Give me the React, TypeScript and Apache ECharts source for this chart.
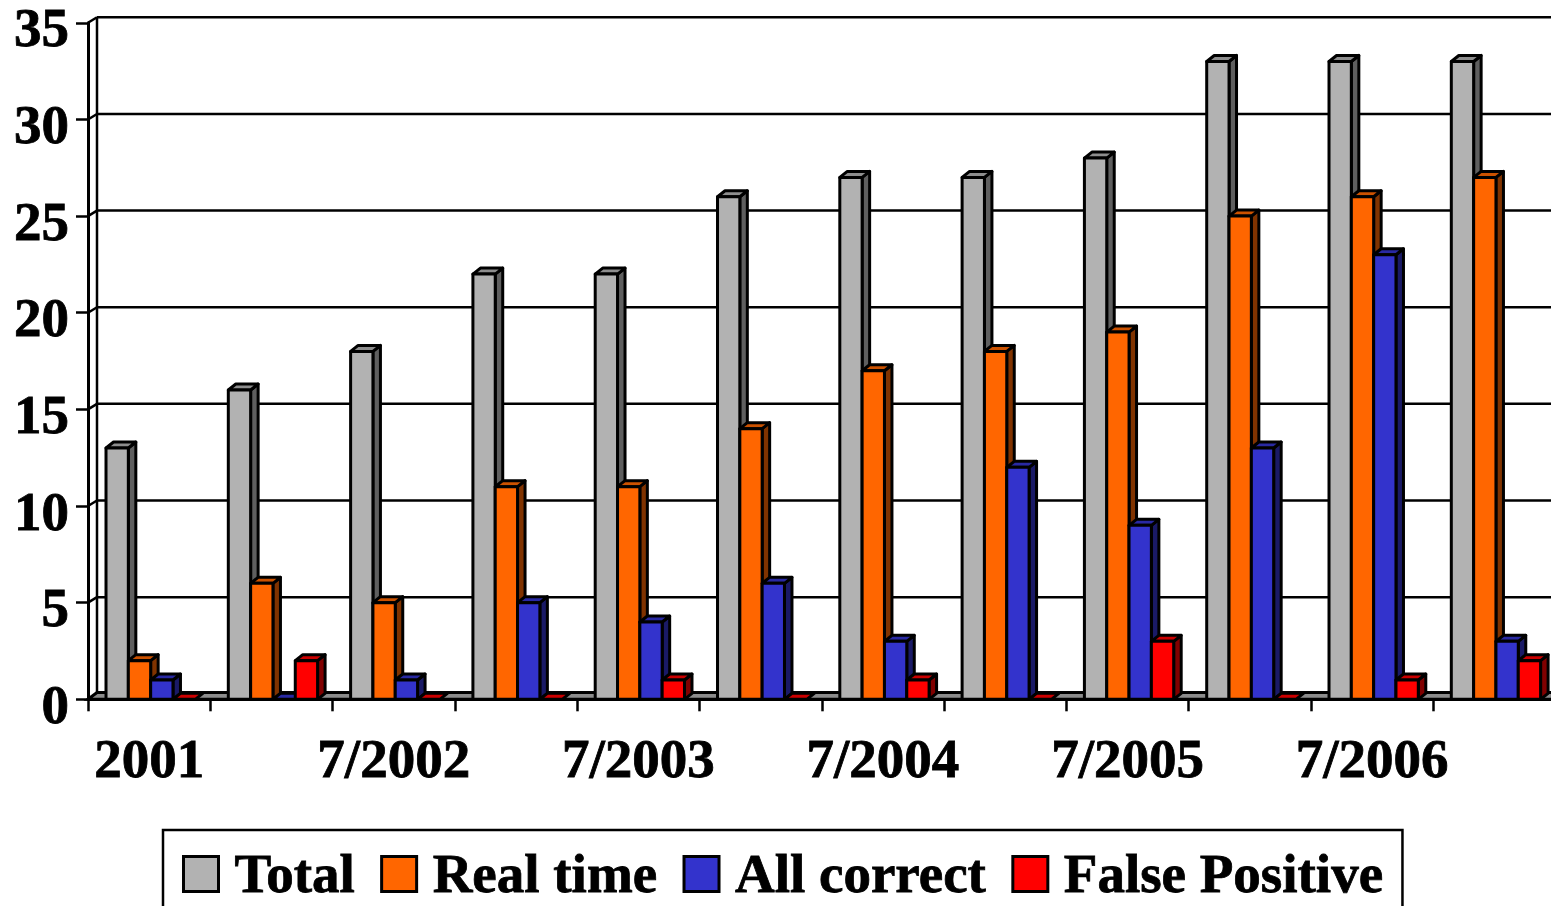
import React, { useEffect, useRef } from "react";
import * as echarts from "echarts";

const categories = ["2001", "1/2002", "7/2002", "1/2003", "7/2003", "1/2004", "7/2004", "1/2005", "7/2005", "1/2006", "7/2006", "1/2007"];
const yTicks = [0, 5, 10, 15, 20, 25, 30, 35];
const seriesNames = ["Total", "Real time", "All correct", "False Positive"];
const total = [13, 16, 18, 22, 22, 26, 27, 27, 28, 33, 33, 33];
const realTime = [2, 6, 5, 11, 11, 14, 17, 18, 19, 25, 26, 27];
const allCorrect = [1, 0, 1, 5, 4, 6, 3, 12, 9, 13, 23, 3];
const falsePositive = [0, 2, 0, 0, 1, 0, 1, 0, 3, 0, 1, 2];
const seriesValues = [total, realTime, allCorrect, falsePositive];
const faceColors = ["#B2B2B2", "#FF6600", "#3333CC", "#FF0000"];
const topColors = ["#8E8E8E", "#CC5200", "#2929A3", "#CC0000"];
const sideColors = ["#5F5F5F", "#803300", "#1A1A66", "#800000"];

const FONT = "'Liberation Serif', 'Times New Roman', serif";
const FONT_SIZE = 55;
const DEPTH_X = 9;
const DEPTH_Y = 5.5;
const FLOOR_DY = 6.8;
const BAR_DX = 7.5;
const BAR_DY = 6;
const BAR_FRACTION = 0.1825;
const GROUP_SHIFT = 1.5;

const lineStyle = { stroke: "#000", lineWidth: 2.5 };
const heavyText = { textBorderColor: "#000", textBorderWidth: 0.8 };
const labelText = { color: "#000", fontFamily: FONT, fontWeight: "bold", fontSize: FONT_SIZE, ...heavyText };

function wallRender(params: any, api: any) {
  const sys = params.coordSys;
  const y = api.coord([0, api.value(0)])[1];
  const backLeft = sys.x + DEPTH_X;
  return {
    type: "group",
    children: [
      { type: "line", shape: { x1: sys.x, y1: y, x2: backLeft, y2: y - DEPTH_Y }, style: lineStyle },
      { type: "line", shape: { x1: backLeft, y1: y - DEPTH_Y, x2: sys.x + sys.width + DEPTH_X, y2: y - DEPTH_Y }, style: lineStyle },
    ],
  };
}

function backEdgeRender(params: any, api: any) {
  const sys = params.coordSys;
  const top = api.coord([0, yTicks[yTicks.length - 1]])[1];
  const bottom = api.coord([0, 0])[1];
  const bx = sys.x + DEPTH_X;
  const rx = sys.x + sys.width;
  return {
    type: "group",
    children: [
      { type: "line", shape: { x1: bx, y1: top - DEPTH_Y, x2: bx, y2: bottom - FLOOR_DY }, style: lineStyle },
      {
        type: "polygon",
        shape: { points: [[sys.x, bottom], [bx, bottom - FLOOR_DY], [rx + DEPTH_X, bottom - FLOOR_DY], [rx, bottom]] },
        style: { fill: "#8C8C8C", stroke: "#000", lineWidth: 3 },
      },
    ],
  };
}

function barRender(seriesIndex: number) {
  return (_params: any, api: any) => {
    const idx = api.value(0);
    const value = api.value(1);
    const [cx, top] = api.coord([idx, value]);
    const bottom = api.coord([idx, 0])[1];
    const band = api.size([1, 0])[0];
    const w = band * BAR_FRACTION;
    const x0 = cx - w * 2 + GROUP_SHIFT + w * seriesIndex;
    const x1 = x0 + w;
    const edge = { stroke: "#000", lineWidth: 3, lineJoin: "round" };
    const children: any[] = [];
    if (value > 0) {
      children.push({
        type: "polygon",
        shape: { points: [[x1, top], [x1 + BAR_DX, top - BAR_DY], [x1 + BAR_DX, bottom - BAR_DY], [x1, bottom]] },
        style: { fill: sideColors[seriesIndex], ...edge },
      });
    }
    children.push({
      type: "polygon",
      shape: { points: [[x0, top], [x0 + BAR_DX, top - BAR_DY], [x1 + BAR_DX, top - BAR_DY], [x1, top]] },
      style: { fill: topColors[seriesIndex], ...edge },
    });
    if (value > 0) {
      children.push({
        type: "rect",
        shape: { x: x0, y: top, width: w, height: bottom - top },
        style: { fill: faceColors[seriesIndex], ...edge },
      });
    }
    return { type: "group", children };
  };
}

export default function App() {
  const ref = useRef<HTMLDivElement>(null);
  useEffect(() => {
    document.body.style.margin = "0";
    const chart = echarts.init(ref.current!, null, { renderer: "svg" });
    chart.setOption({
      animation: false,
      backgroundColor: "#fff",
      grid: { left: 88, top: 22.8, width: 1467.6, height: 676.5, containLabel: false, outerBoundsMode: "none" },
      xAxis: {
        type: "category",
        data: categories,
        axisLine: { show: true, lineStyle: { color: "#000", width: 3 } },
        axisTick: { show: true, interval: 0, length: 12, lineStyle: { color: "#000", width: 2.5 } },
        axisLabel: { interval: 1, margin: 32, ...labelText },
      },
      yAxis: {
        type: "value",
        min: 0,
        max: 35,
        interval: 5,
        axisLine: { show: true, lineStyle: { color: "#000", width: 3 } },
        axisTick: { show: true, length: 12, lineStyle: { color: "#000", width: 2.5 } },
        axisLabel: {
          margin: 19,
          formatter: "{a|{value}}",
          rich: { a: { ...labelText, padding: [10, 0, 0, 0] } },
        },
        splitLine: { show: false },
      },
      legend: {
        left: 163,
        top: 830,
        padding: [16, 19, 40, 19],
        itemGap: 25,
        itemWidth: 35,
        itemHeight: 35,
        selectedMode: false,
        borderColor: "#000",
        borderWidth: 2.5,
        textStyle: { ...labelText, padding: [0, 0, 0, 11] },
        data: seriesNames.map((name, i) => ({
          name,
          icon: "rect",
          itemStyle: { color: faceColors[i], borderColor: "#000", borderWidth: 3 },
        })),
      },
      series: [
        {
          type: "custom",
          silent: true,
          z: 2,
          data: yTicks.map((v) => [v]),
          encode: { y: 0 },
          renderItem: wallRender,
        },
        {
          type: "custom",
          silent: true,
          z: 3,
          data: [[0]],
          encode: { y: 0 },
          renderItem: backEdgeRender,
        },
        ...seriesNames.map((name, s) => ({
          type: "custom",
          name,
          z: 4 + s,
          itemStyle: { color: faceColors[s] },
          data: seriesValues[s].map((v, i) => [i, v]),
          encode: { x: 0, y: 1 },
          renderItem: barRender(s),
        })),
      ],
    });
    return () => chart.dispose();
  }, []);
  return <div ref={ref} style={{ position: "fixed", left: 0, top: 0, width: 1551, height: 906, overflow: "hidden" }} />;
}
